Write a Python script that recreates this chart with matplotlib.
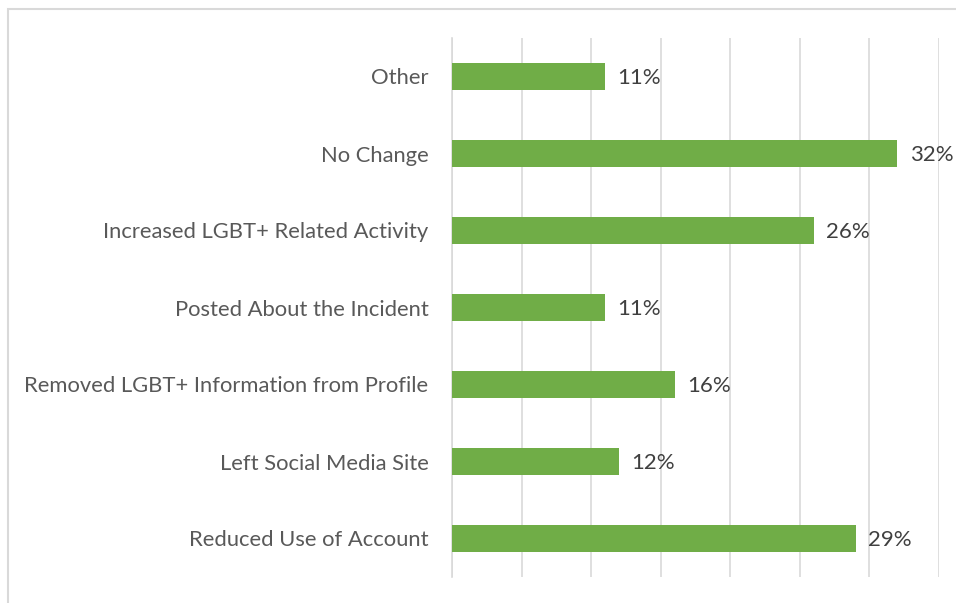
import matplotlib.pyplot as plt
from matplotlib.patches import Rectangle

categories = ['Reduced Use of Account', 'Left Social Media Site',
              'Removed LGBT+ Information from Profile', 'Posted About the Incident',
              'Increased LGBT+ Related Activity', 'No Change', 'Other']
values = [29, 12, 16, 11, 26, 32, 11]

W, H = 956, 603
fig = plt.figure(figsize=(W / 100, H / 100), dpi=100)
plt.rcParams['font.family'] = ['Lato', 'DejaVu Sans']

# outer chart frame (cut off at right and bottom like the reference)
fig.patches.append(Rectangle((7.5 / W, -0.05), 1.0, 1 - 8.5 / H + 0.05,
                             transform=fig.transFigure, fill=False,
                             edgecolor='#d9d9d9', linewidth=1.5))

ax = fig.add_axes([452 / W, 1 - 577 / H, (939 - 452) / W, (577 - 38) / H])
y = range(len(categories))
bars = ax.barh(y, values, height=0.35, color='#70AD47', zorder=3)
ax.set_ylim(-0.5, len(categories) - 0.5)
ax.set_xlim(0, 35)
ax.set_xticks(range(0, 36, 5))
ax.xaxis.grid(True, color='#d9d9d9', linewidth=1.2, zorder=0)
ax.tick_params(axis='x', length=0, labelbottom=False)
ax.tick_params(axis='y', length=0, pad=17, labelsize=15.8, labelcolor='#595959')
ax.set_yticks(list(y))
ax.set_yticklabels(categories)
for s in ['top', 'right', 'bottom']:
    ax.spines[s].set_visible(False)
ax.spines['left'].set_color('#d9d9d9')
ax.spines['left'].set_linewidth(1.2)

for b, v in zip(bars, values):
    ax.annotate(f'{v}%', (b.get_width(), b.get_y() + b.get_height() / 2),
                xytext=(9, -1), textcoords='offset points', va='center',
                fontsize=16, color='#404040')

fig.savefig('out.png', dpi=100, facecolor='white')
